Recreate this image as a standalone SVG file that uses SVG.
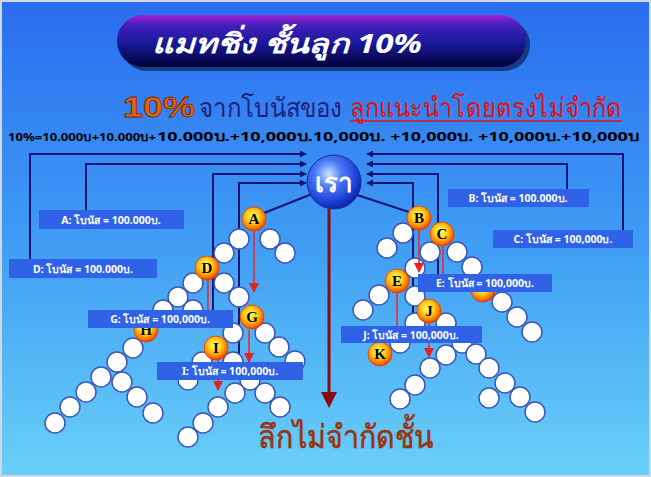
<svg xmlns="http://www.w3.org/2000/svg" width="651" height="477" viewBox="0 0 651 477">
<defs>
<linearGradient id="bg" x1="0" y1="0" x2="0" y2="1">
<stop offset="0" stop-color="#2a6cf0"/>
<stop offset="0.5" stop-color="#3f9cf4"/>
<stop offset="1" stop-color="#6ad0f8"/>
</linearGradient>
<linearGradient id="pill" x1="0" y1="0" x2="0" y2="1">
<stop offset="0" stop-color="#a020d8"/>
<stop offset="0.2" stop-color="#4020b8"/>
<stop offset="0.55" stop-color="#18189a"/>
<stop offset="1" stop-color="#020238"/>
</linearGradient>
<radialGradient id="orb" cx="0.45" cy="0.4" r="0.6">
<stop offset="0" stop-color="#ffff60"/>
<stop offset="0.45" stop-color="#ffd020"/>
<stop offset="0.8" stop-color="#ff7a00"/>
<stop offset="1" stop-color="#e03a00"/>
</radialGradient>
<radialGradient id="rao" cx="0.4" cy="0.35" r="0.7">
<stop offset="0" stop-color="#c8e0ff"/>
<stop offset="0.35" stop-color="#4a7cf8"/>
<stop offset="0.8" stop-color="#1838d0"/>
<stop offset="1" stop-color="#0c1c90"/>
</radialGradient>
<marker id="ar" viewBox="0 0 8 8" refX="7" refY="4" markerWidth="7" markerHeight="7" markerUnits="userSpaceOnUse" orient="auto">
<path d="M0,0 L8,4 L0,8 z" fill="#141478"/>
</marker>
<marker id="rr" viewBox="0 0 10 10" refX="9" refY="5" markerWidth="10" markerHeight="10" markerUnits="userSpaceOnUse" orient="auto">
<path d="M0,0 L10,5 L0,10 z" fill="#e82020"/>
</marker>
</defs>
<style>
.w{fill:#ffffff;stroke:#3a58b8;stroke-width:1.5}
.o{fill:url(#orb);stroke:#e04000;stroke-width:0.8}
.ol{font-family:"Liberation Serif",serif;font-weight:bold;font-size:15px;fill:#000;text-anchor:middle}
.nv{stroke:#141478;stroke-width:2;fill:none}
.rd{stroke:#e03030;stroke-width:1.6;fill:none}
.bx{fill:#2f62e6}
.bt{font-family:"Noto Sans","DejaVu Sans",sans-serif;font-weight:bold;font-size:10.5px;fill:#ffffff;text-anchor:middle}
</style>
<rect x="0" y="0" width="651" height="477" fill="url(#bg)"/>
<rect x="1" y="1" width="649" height="475" fill="none" stroke="#d0d8e0" stroke-width="2"/>

<g id="title">
<rect x="121" y="19" width="409" height="52" rx="26" fill="#061040" opacity="0.6"/>
<rect x="117" y="15" width="409" height="52" rx="26" fill="url(#pill)"/>
<text x="152" y="53" font-family="Noto Sans,DejaVu Sans,sans-serif" font-size="27" font-weight="bold" font-style="italic" fill="#ffffff" textLength="270" lengthAdjust="spacingAndGlyphs">แมทชิ่ง ชั้นลูก 10%</text>
</g>

<g id="headline">
<text x="123" y="117" font-family="Liberation Sans,sans-serif" font-size="30" font-weight="bold" fill="#e2640f" stroke="#7a2800" stroke-width="0.8" textLength="72" lengthAdjust="spacingAndGlyphs">10%</text>
<text x="199" y="117" font-family="Liberation Serif,Noto Sans,serif" font-size="27" fill="#24207a" textLength="143" lengthAdjust="spacingAndGlyphs">จากโบนัสของ</text>
<text x="350" y="117" font-family="Liberation Serif,Noto Sans,serif" font-size="27" fill="#e01414" textLength="272" lengthAdjust="spacingAndGlyphs">ลูกแนะนำโดยตรงไม่จำกัด</text>
<line x1="350" y1="121" x2="622" y2="121" stroke="#e01414" stroke-width="1.5"/>
</g>

<g id="sumline">
<text x="8" y="141" font-family="Noto Sans,DejaVu Sans,sans-serif" font-size="11" font-weight="bold" fill="#000" textLength="148" lengthAdjust="spacingAndGlyphs">10%=10.000บ+10.000บ+</text>
<text x="157" y="141" font-family="Noto Sans,DejaVu Sans,sans-serif" font-size="13" font-weight="bold" fill="#000" textLength="482" lengthAdjust="spacingAndGlyphs">10.000บ.+10,000บ.10,000บ. +10,000บ. +10,000บ.+10,000บ</text>
</g>

<g id="connectors">
<polyline class="nv" points="30,259 30,154 306,154" marker-end="url(#ar)"/>
<polyline class="nv" points="86,211 86,164 306,164" marker-end="url(#ar)"/>
<polyline class="nv" points="213,310 213,174 306,174" marker-end="url(#ar)"/>
<polyline class="nv" points="239,363 239,183 306,183" marker-end="url(#ar)"/>
<polyline class="nv" points="623,231 623,154 367,154" marker-end="url(#ar)"/>
<polyline class="nv" points="567,190 567,164 367,164" marker-end="url(#ar)"/>
<polyline class="nv" points="438,274 438,174 367,174" marker-end="url(#ar)"/>
<polyline class="nv" points="413,326 413,183 367,183" marker-end="url(#ar)"/>
<line class="nv" x1="312" y1="194" x2="264" y2="213"/>
<line class="nv" x1="354" y1="194" x2="409" y2="212"/>
<line x1="329" y1="209" x2="329" y2="394" stroke="#8b0a0a" stroke-width="3"/>
<path d="M321,392 L337,392 L329,408 z" fill="#8b0a0a"/>
</g>

<g id="left-tree">
<circle class="w" cx="239" cy="239" r="10"/><circle class="w" cx="270" cy="239" r="10"/>
<circle class="w" cx="224" cy="253" r="10"/><circle class="w" cx="285" cy="253" r="10"/>
<circle class="w" cx="193" cy="283" r="10"/><circle class="w" cx="178" cy="297" r="10"/>
<circle class="w" cx="163" cy="310" r="10"/><circle class="w" cx="193" cy="310" r="10"/>
<circle class="w" cx="224" cy="283" r="10"/><circle class="w" cx="239" cy="297" r="10"/>
<circle class="w" cx="133" cy="348" r="10"/><circle class="w" cx="117" cy="362" r="10"/>
<circle class="w" cx="101" cy="377" r="10"/><circle class="w" cx="86" cy="392" r="10"/>
<circle class="w" cx="70" cy="407" r="10"/><circle class="w" cx="55" cy="423" r="10"/>
<circle class="w" cx="122" cy="382" r="10"/><circle class="w" cx="137" cy="397" r="10"/>
<circle class="w" cx="153" cy="413" r="10"/>
<circle class="w" cx="233" cy="333" r="10"/><circle class="w" cx="265" cy="333" r="10"/>
<circle class="w" cx="279" cy="347" r="10"/><circle class="w" cx="295" cy="361" r="10"/>
<circle class="w" cx="202" cy="362" r="10"/><circle class="w" cx="233" cy="362" r="10"/>
<circle class="w" cx="188" cy="380" r="10"/><circle class="w" cx="250" cy="380" r="10"/>
<circle class="w" cx="235" cy="393" r="10"/><circle class="w" cx="218" cy="407" r="10"/>
<circle class="w" cx="203" cy="423" r="10"/><circle class="w" cx="188" cy="437" r="10"/>
<circle class="w" cx="265" cy="393" r="10"/><circle class="w" cx="280" cy="407" r="10"/>
</g>

<g id="right-tree">
<circle class="w" cx="403" cy="233" r="10"/><circle class="w" cx="387" cy="248" r="10"/>
<circle class="w" cx="430" cy="252" r="10"/><circle class="w" cx="457" cy="252" r="10"/>
<circle class="w" cx="472" cy="267" r="10"/><circle class="w" cx="415" cy="268" r="10"/>
<circle class="w" cx="379" cy="295" r="10"/><circle class="w" cx="363" cy="310" r="10"/>
<circle class="w" cx="415" cy="296" r="10"/><circle class="w" cx="415" cy="323" r="10"/>
<circle class="w" cx="446" cy="323" r="10"/><circle class="w" cx="400" cy="343" r="10"/>
<circle class="w" cx="462" cy="343" r="10"/><circle class="w" cx="446" cy="355" r="10"/>
<circle class="w" cx="430" cy="368" r="10"/><circle class="w" cx="415" cy="385" r="10"/>
<circle class="w" cx="400" cy="399" r="10"/><circle class="w" cx="476" cy="354" r="10"/>
<circle class="w" cx="489" cy="368" r="10"/><circle class="w" cx="505" cy="383" r="10"/>
<circle class="w" cx="520" cy="397" r="10"/><circle class="w" cx="535" cy="412" r="10"/>
<circle class="w" cx="489" cy="398" r="10"/><circle class="w" cx="502" cy="302" r="10"/>
<circle class="w" cx="517" cy="317" r="10"/><circle class="w" cx="532" cy="332" r="10"/>
</g>

<g id="red-arrows">
<line class="rd" x1="254" y1="231" x2="254" y2="292" marker-end="url(#rr)"/>
<line class="rd" x1="208" y1="280" x2="208" y2="310"/>
<line class="rd" x1="249" y1="330" x2="249" y2="362" marker-end="url(#rr)"/>
<line class="rd" x1="218" y1="360" x2="218" y2="390" marker-end="url(#rr)"/>
<line class="rd" x1="419" y1="230" x2="419" y2="272" marker-end="url(#rr)"/>
<line class="rd" x1="443" y1="246" x2="443" y2="274"/>
<line class="rd" x1="397" y1="293" x2="397" y2="326"/>
<line class="rd" x1="429" y1="323" x2="429" y2="357" marker-end="url(#rr)"/>
</g>

<g id="node-A"><circle class="o" cx="254" cy="219" r="12"/><text class="ol" x="254" y="224">A</text></g>
<g id="node-D"><circle class="o" cx="207" cy="268" r="12"/><text class="ol" x="207" y="273">D</text></g>
<g id="node-G"><circle class="o" cx="252" cy="317" r="12"/><text class="ol" x="252" y="322">G</text></g>
<g id="node-H"><circle class="o" cx="146" cy="330" r="12"/><text class="ol" x="146" y="335">H</text></g>
<g id="node-I"><circle class="o" cx="216" cy="348" r="12"/><text class="ol" x="216" y="353">I</text></g>
<g id="node-B"><circle class="o" cx="419" cy="218" r="12"/><text class="ol" x="419" y="223">B</text></g>
<g id="node-C"><circle class="o" cx="442" cy="234" r="12"/><text class="ol" x="442" y="239">C</text></g>
<g id="node-E"><circle class="o" cx="397" cy="281" r="12"/><text class="ol" x="397" y="286">E</text></g>
<g id="node-F"><circle class="o" cx="483" cy="290" r="12"/></g>
<g id="node-J"><circle class="o" cx="429" cy="311" r="12"/><text class="ol" x="429" y="316">J</text></g>
<g id="node-K"><circle class="o" cx="380" cy="354" r="12"/><text class="ol" x="380" y="359">K</text></g>

<g id="node-rao">
<circle cx="334" cy="182" r="27" fill="url(#rao)" stroke="#1a2aa0" stroke-width="1"/>
<text x="334" y="192" font-family="Noto Sans,DejaVu Sans,sans-serif" font-size="26" font-weight="bold" fill="#ffffff" text-anchor="middle">เรา</text>
</g>

<g id="box-A"><rect class="bx" x="39" y="210" width="145" height="19"/><text class="bt" x="111" y="223.5">A: โบนัส = 100.000บ.</text></g>
<g id="box-D"><rect class="bx" x="9" y="259" width="148" height="19"/><text class="bt" x="83" y="272.5">D: โบนัส = 100.000บ.</text></g>
<g id="box-G"><rect class="bx" x="88" y="310" width="145" height="18"/><text class="bt" x="160" y="323">G: โบนัส = 100,000บ.</text></g>
<g id="box-I"><rect class="bx" x="157" y="362" width="146" height="18"/><text class="bt" x="230" y="375">I: โบนัส = 100,000บ.</text></g>
<g id="box-B"><rect class="bx" x="448" y="189" width="141" height="18"/><text class="bt" x="518" y="202">B: โบนัส = 100.000บ.</text></g>
<g id="box-C"><rect class="bx" x="493" y="230" width="140" height="18"/><text class="bt" x="563" y="243">C: โบนัส = 100,000บ.</text></g>
<g id="box-E"><rect class="bx" x="418" y="274" width="134" height="18"/><text class="bt" x="485" y="287">E: โบนัส = 100,000บ.</text></g>
<g id="box-J"><rect class="bx" x="341" y="326" width="141" height="17"/><text class="bt" x="411" y="338.5">J: โบนัส = 100,000บ.</text></g>

<g id="footer">
<text x="258" y="448" font-family="Liberation Serif,Noto Sans,serif" font-size="32" fill="#9a3410" stroke="#9a3410" stroke-width="0.6" textLength="176" lengthAdjust="spacingAndGlyphs">ลึกไม่จำกัดชั้น</text>
</g>
</svg>
